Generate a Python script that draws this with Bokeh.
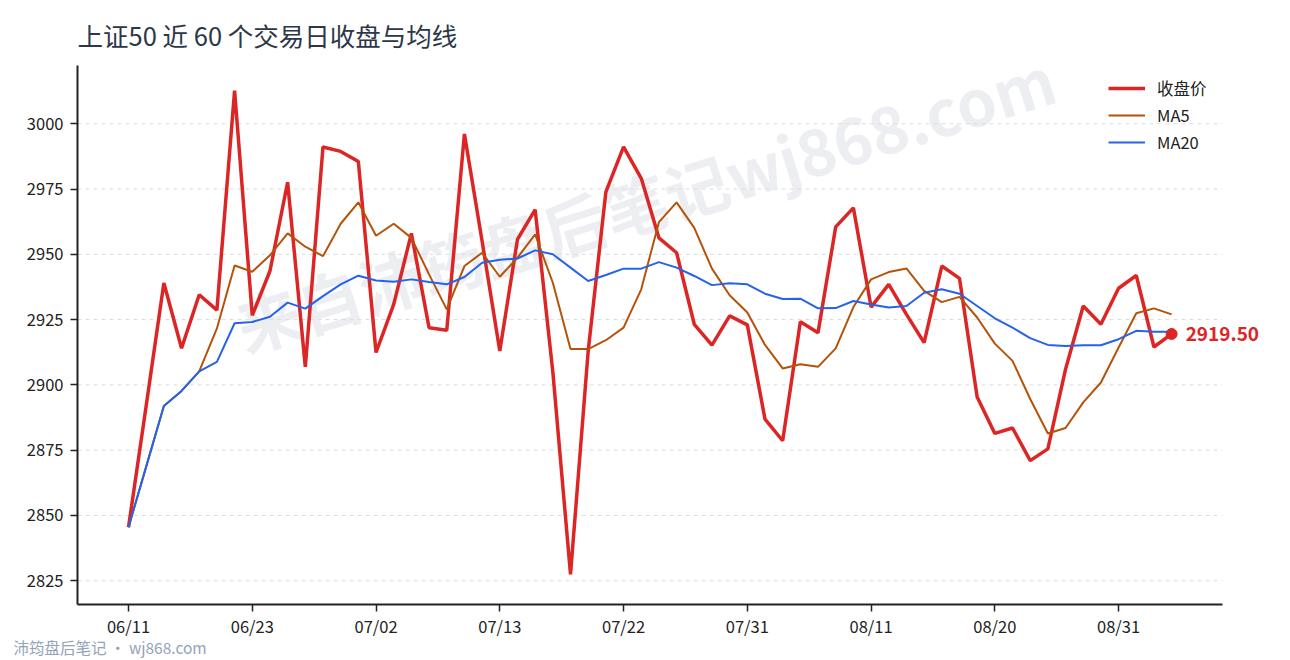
from bokeh.plotting import figure
from bokeh.models import FixedTicker, Label, Title
from bokeh.embed import file_html
from bokeh.resources import INLINE

# 上证50 close and moving averages (60 trading days)
close = [2845.5, 2892.0, 2939.0, 2914.0, 2934.5, 2928.6, 3012.7, 2926.6, 2943.6, 2977.6,
         2906.9, 2991.1, 2989.4, 2985.5, 2912.4, 2930.8, 2958.0, 2921.9, 2920.9, 2996.1,
         2955.0, 2913.0, 2955.7, 2967.1, 2905.0, 2827.4, 2913.0, 2973.9, 2991.1, 2979.1,
         2956.3, 2950.6, 2923.2, 2915.2, 2926.4, 2923.0, 2886.9, 2878.6, 2924.2, 2920.0,
         2960.5, 2967.8, 2929.8, 2938.5, 2927.0, 2916.2, 2945.5, 2940.8, 2895.4, 2881.4,
         2883.5, 2871.0, 2875.5, 2906.0, 2930.2, 2923.2, 2937.0, 2941.9, 2914.5, 2919.5]
ma5 = [2845.5, 2868.7, 2891.9, 2897.7, 2905.2, 2921.6, 2945.7, 2943.3, 2949.6, 2958.0,
       2952.9, 2949.3, 2961.7, 2969.9, 2957.1, 2961.7, 2956.3, 2942.3, 2928.9, 2945.5,
       2950.6, 2941.4, 2948.7, 2957.6, 2939.1, 2913.7, 2913.7, 2917.1, 2921.9, 2936.6,
       2962.3, 2969.9, 2960.1, 2944.5, 2934.3, 2927.7, 2915.3, 2906.3, 2907.9, 2906.9,
       2914.0, 2929.8, 2940.4, 2943.2, 2944.6, 2936.0, 2931.7, 2933.7, 2925.8, 2915.8,
       2909.2, 2894.6, 2881.4, 2883.5, 2893.3, 2900.9, 2914.3, 2927.4, 2929.3, 2927.0]
ma20 = [2845.5, 2868.7, 2891.9, 2897.7, 2905.2, 2908.8, 2923.6, 2924.1, 2926.1, 2931.5,
        2929.2, 2934.0, 2938.5, 2941.8, 2940.0, 2939.5, 2940.4, 2939.4, 2938.5, 2941.3,
        2946.8, 2947.9, 2948.4, 2951.5, 2950.0, 2944.9, 2939.8, 2942.1, 2944.5, 2944.5,
        2947.0, 2944.9, 2941.7, 2938.2, 2938.9, 2938.5, 2934.9, 2932.9, 2933.0, 2929.3,
        2929.4, 2932.1, 2930.8, 2929.6, 2930.2, 2935.3, 2936.6, 2934.9, 2930.2, 2925.5,
        2921.9, 2917.9, 2915.3, 2914.9, 2915.2, 2915.2, 2917.5, 2920.7, 2920.3, 2920.3]
tick_labels = ["06/11", "06/23", "07/02", "07/13", "07/22", "07/31", "08/11", "08/20", "08/31"]
y_ticks = [2825, 2850, 2875, 2900, 2925, 2950, 2975, 3000]

FONT = "Noto Sans CJK SC"
RED = "#dc2626"
ORANGE = "#b45309"
BLUE = "#2563eb"

days = list(range(len(close)))
tick_pos = list(range(0, len(close), 7))

# axis spans -2.885..61.88, the frame goes further right so the last value label fits
x_lo, x_axis_hi = -2.885, 61.88
p = figure(width=1290, height=660, output_backend="svg", toolbar_location=None,
           x_range=(x_lo, 65.44), y_range=(2815.9, 3022.3),
           min_border_left=77, min_border_right=5, min_border_top=64, min_border_bottom=56)
p.outline_line_color = None

p.title.text = "上证50 近 60 个交易日收盘与均线"
p.title.text_font = FONT
p.title.text_font_size = "25.5px"
p.title.text_font_style = "normal"
p.title.text_color = "#2d3748"
p.title.align = "left"
p.title.standoff = 26

# watermark
wm = Label(x=29.2, y=2970.5, text="来自沛筠盘后笔记wj868.com", angle=0.30,
           text_align="center", text_baseline="middle", text_font=FONT,
           text_font_size="64px", text_font_style="bold",
           text_color="#94a3b8", text_alpha=0.18, level="underlay")
p.add_layout(wm)

# dashed horizontal grid, only as wide as the x axis
p.grid.visible = False
p.segment(x0=x_lo, x1=x_axis_hi, y0=y_ticks, y1=y_ticks,
          line_color="#dddddd", line_width=1, line_dash="4 4")

p.line(days, close, color=RED, line_width=3.5, legend_label="收盘价")
p.line(days, ma5, color=ORANGE, line_width=2, legend_label="MA5")
p.line(days, ma20, color=BLUE, line_width=2, legend_label="MA20")
p.scatter([days[-1]], [close[-1]], size=11, color=RED)
p.add_layout(Label(x=days[-1], y=close[-1], text="%.2f" % close[-1], x_offset=14,
                   text_baseline="middle", text_font=FONT, text_font_size="19px",
                   text_font_style="bold", text_color=RED))

# axes
p.xaxis.ticker = FixedTicker(ticks=tick_pos)
p.xaxis.major_label_overrides = {t: lab for t, lab in zip(tick_pos, tick_labels)}
p.xaxis.bounds = (x_lo, x_axis_hi)
p.yaxis.ticker = FixedTicker(ticks=y_ticks)
for ax in (p.xaxis, p.yaxis):
    ax.axis_line_color = "#222222"
    ax.axis_line_width = 2
    ax.major_tick_line_color = "#222222"
    ax.major_tick_line_width = 1.5
    ax.major_tick_out = 7
    ax.major_tick_in = 0
    ax.minor_tick_line_color = None
    ax.major_label_text_font = FONT
    ax.major_label_text_font_size = "16.5px"
    ax.major_label_text_color = "#222222"
p.yaxis.major_label_standoff = 7
p.xaxis.major_label_standoff = 2

p.legend.location = (1031, 450)
p.legend.border_line_color = None
p.legend.background_fill_alpha = 0
p.legend.label_text_font = FONT
p.legend.label_text_font_size = "16.5px"
p.legend.label_text_color = "#222222"
p.legend.glyph_width = 37
p.legend.label_height = 20
p.legend.glyph_height = 20
p.legend.label_standoff = 12
p.legend.spacing = 3
p.legend.margin = 0
p.legend.padding = 5

p.add_layout(Title(text="沛筠盘后笔记 · wj868.com", align="left", offset=-64, standoff=-14,
                   text_font=FONT, text_font_size="15.5px", text_font_style="normal",
                   text_color="#94a3b8"), "below")

open("out.html", "w").write(file_html(p, INLINE))
